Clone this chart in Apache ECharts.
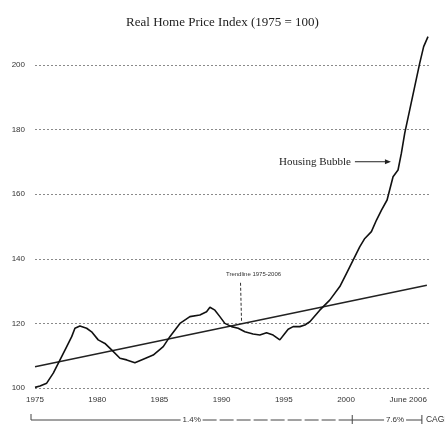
<!DOCTYPE html>
<html><head><meta charset="utf-8">
<script src="https://cdn.jsdelivr.net/npm/echarts@6.0.0/dist/echarts.min.js"></script>
<style>html,body{margin:0;padding:0;background:#fff}#c{width:445px;height:435px}</style>
</head><body><div id="c"></div>
<script>
// ---- data ----
const years = [1975.0,1975.4,1975.94,1976.47,1977.01,1977.55,1977.95,1978.21,1978.61,1979.15,1979.55,1980.08,1980.62,1981.16,1981.83,1982.37,1983.03,1983.7,1984.5,1985.31,1985.84,1986.65,1987.45,1988.25,1988.79,1989.06,1989.46,1989.86,1990.26,1990.8,1991.33,1991.87,1992.53,1993.07,1993.61,1994.14,1994.68,1995.08,1995.35,1995.75,1996.29,1996.69,1997.09,1997.89,1998.69,1999.5,2000.04,2000.57,2001.1,2001.51,2002.04,2002.45,2002.85,2003.3,2003.78,2004.18,2004.45,2004.72,2005.12,2005.52,2005.92,2006.24,2006.59];
const index = [100.2,100.6,101.5,104.6,108.7,112.8,115.9,118.5,119.2,118.5,117.4,114.9,113.8,111.8,109.2,108.7,107.8,108.9,110.2,112.8,115.9,120.0,122.1,122.6,123.6,125.0,124.1,122.1,120.0,119.0,118.5,117.4,116.7,116.4,117.1,116.4,114.9,116.9,118.2,119.0,119.0,119.5,120.5,124.1,127.2,131.4,135.5,139.6,143.7,146.3,148.4,152.0,155.1,158.2,165.4,167.5,172.7,178.9,186.1,193.3,200.5,205.7,208.8];
const trendYears = [1975, 2006.5];
const trendValues = [106.6, 131.8];
const yTicks = [100, 120, 140, 160, 180, 200];
const xTicks = [1975, 1980, 1985, 1990, 1995, 2000, 2006.5];
const xTickLabels = ['1975', '1980', '1985', '1990', '1995', '2000', 'June 2006'];
const cagrBreaks = [1975, 2000.5, 2006.5];
const cagrLabels = ['1.4%', '7.6%'];
const cagrTitle = 'CAGR';
const titleText = 'Real Home Price Index (1975 = 100)';
const trendNote = 'Trendline 1975-2006';
const trendNoteYear = 1991.6;
const bubbleNote = 'Housing Bubble';
const bubblePoint = [2003.85, 168.5];

const chart = echarts.init(document.getElementById('c'), null, {renderer: 'canvas'});
const sans = 'Liberation Sans';
const serif = 'Liberation Serif';

chart.setOption({
  animation: false,
  backgroundColor: '#fff',
  title: {
    text: titleText, left: 'center', top: 11,
    textStyle: {fontFamily: serif, fontSize: 13, fontWeight: 'normal', color: '#222'}
  },
  grid: {left: 35, right: 15, top: 65, bottom: 47, containLabel: false},
  xAxis: {
    type: 'value', min: 1975, max: 2006.75,
    axisLine: {show: false}, axisTick: {show: false}, splitLine: {show: false},
    axisLabel: {
      customValues: xTicks, margin: 8, alignMaxLabel: 'right',
      fontFamily: sans, fontSize: 8, color: '#333',
      formatter: v => { const i = xTicks.findIndex(t => Math.abs(t - v) < 1e-6); return i >= 0 ? xTickLabels[i] : ''; }
    }
  },
  yAxis: {
    type: 'value', min: 100, max: 200, interval: 20,
    axisLine: {show: false}, axisTick: {show: false},
    axisLabel: {margin: 10, fontFamily: sans, fontSize: 8, color: '#333'},
    splitLine: {show: true, lineStyle: {color: '#8a8a8a', width: 1, type: [2, 2]}}
  },
  series: [
    {
      name: 'Index', type: 'line', clip: false, symbol: 'none',
      data: years.map((y, i) => [y, index[i]]),
      lineStyle: {color: '#111', width: 1.6}, z: 3
    },
    {
      name: 'Trend', type: 'line', clip: false, symbol: 'none',
      data: trendYears.map((y, i) => [y, trendValues[i]]),
      lineStyle: {color: '#222', width: 1.5}, z: 2
    }
  ]
});

function px(p) { return chart.convertToPixel({gridIndex: 0}, p); }
function trendAt(y) {
  return trendValues[0] + (y - trendYears[0]) / (trendYears[1] - trendYears[0]) * (trendValues[1] - trendValues[0]);
}

const g = [];
// CAGR bar
const rowY = 420;
const b = cagrBreaks.map(v => px([v, 100])[0]);
const lineSt = {stroke: '#444', lineWidth: 1};
g.push({type: 'line', shape: {x1: b[0] - 4, y1: rowY - 6, x2: b[0] - 4, y2: rowY}, style: lineSt});
for (let k = 0; k < 2; k++) {
  const a = k === 0 ? b[0] - 4 : b[1];
  const e = b[k + 1] - (k === 1 ? 5 : 0);
  const m = (a + e) / 2 + (k === 1 ? 8 : 0);
  const half = 11;
  g.push({type: 'line', shape: {x1: a, y1: rowY, x2: m - half, y2: rowY}, style: lineSt});
  g.push({type: 'line', shape: {x1: m + half, y1: rowY, x2: e, y2: rowY}, style: Object.assign({lineDash: k === 0 ? [14, 3] : null}, lineSt)});
  g.push({type: 'text', x: m, y: rowY, style: {text: cagrLabels[k], fontFamily: sans, fontSize: 8, fill: '#333', align: 'center', verticalAlign: 'middle'}});
}
g.push({type: 'line', shape: {x1: b[1], y1: rowY - 5, x2: b[1], y2: rowY + 4}, style: lineSt});
g.push({type: 'line', shape: {x1: b[2] - 5, y1: rowY - 5, x2: b[2] - 5, y2: rowY + 4}, style: lineSt});
g.push({type: 'text', x: b[2] - 1, y: rowY, style: {text: cagrTitle, fontFamily: sans, fontSize: 8.5, fill: '#333', align: 'left', verticalAlign: 'middle'}});

// trendline note
const tp = px([trendNoteYear, trendAt(trendNoteYear)]);
g.push({type: 'text', x: tp[0] + 12, y: tp[1] - 49, style: {text: trendNote, fontFamily: sans, fontSize: 6, fill: '#333', align: 'center', verticalAlign: 'middle'}});
g.push({type: 'line', shape: {x1: tp[0] - 1, y1: tp[1] - 41, x2: tp[0], y2: tp[1] - 3}, style: {stroke: '#333', lineWidth: 1, lineDash: [3, 2]}});

// housing bubble note
const bp = px(bubblePoint);
const ay = bp[1] - 5;
g.push({type: 'line', shape: {x1: bp[0] - 39, y1: ay, x2: bp[0] - 5, y2: ay}, style: {stroke: '#222', lineWidth: 1}});
g.push({type: 'polygon', shape: {points: [[bp[0] - 3, ay], [bp[0] - 9, ay - 2.5], [bp[0] - 9, ay + 2.5]]}, style: {fill: '#222'}});
g.push({type: 'text', x: bp[0] - 43, y: ay, style: {text: bubbleNote, fontFamily: serif, fontSize: 11, fill: '#222', align: 'right', verticalAlign: 'middle'}});

chart.setOption({graphic: {elements: g}});
</script>
</body></html>
